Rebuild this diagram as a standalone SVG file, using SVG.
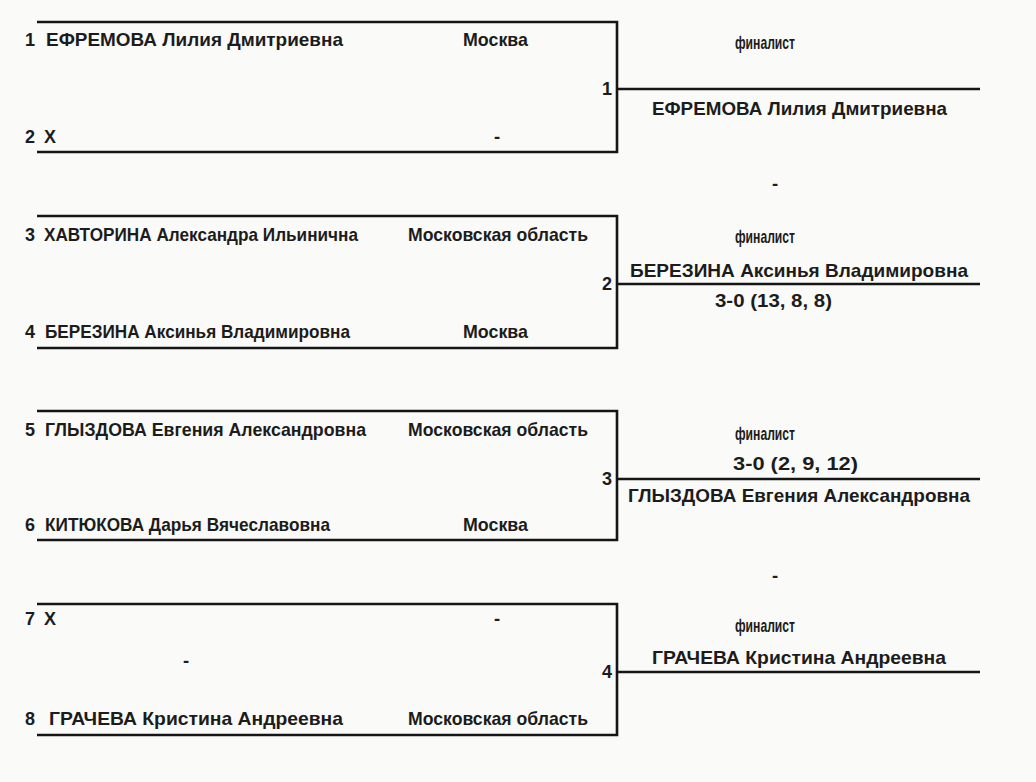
<svg xmlns="http://www.w3.org/2000/svg" width="1036" height="782" viewBox="0 0 1036 782">
<style>
text{font-family:"Liberation Sans","Arial",sans-serif;font-weight:bold;fill:#1c1c1c;font-size:18.5px}
.num{font-size:18px}
.sm{font-size:19px}
.c{text-anchor:middle}
.ln{stroke:#151515;stroke-width:2.6;fill:none}
</style>
<rect width="1036" height="782" fill="#fafaf8"/>
<g id="connectors">
<path class="ln" d="M37 22H617V152H37M617 89H980"/>
<path class="ln" d="M37 216H617V348H37M617 284H980"/>
<path class="ln" d="M37 411H617V540H37M617 479H980"/>
<path class="ln" d="M37 604H617V735H37M617 672H980"/>
</g>
<g id="p1"><text class="num" x="25" y="46">1</text><text x="46" y="46" textLength="297" lengthAdjust="spacingAndGlyphs">ЕФРЕМОВА Лилия Дмитриевна</text><text x="463" y="46" textLength="65" lengthAdjust="spacingAndGlyphs">Москва</text></g>
<g id="p2"><text class="num" x="25" y="143">2</text><text x="44" y="143" textLength="12" lengthAdjust="spacingAndGlyphs">X</text><text class="c" x="497" y="143">-</text></g>
<g id="p3"><text class="num" x="25" y="241">3</text><text x="44" y="241" textLength="314" lengthAdjust="spacingAndGlyphs">ХАВТОРИНА Александра Ильинична</text><text x="408" y="241" textLength="180" lengthAdjust="spacingAndGlyphs">Московская область</text></g>
<g id="p4"><text class="num" x="25" y="338">4</text><text x="45" y="338" textLength="305" lengthAdjust="spacingAndGlyphs">БЕРЕЗИНА Аксинья Владимировна</text><text x="463" y="338" textLength="65" lengthAdjust="spacingAndGlyphs">Москва</text></g>
<g id="p5"><text class="num" x="25" y="436">5</text><text x="45" y="436" textLength="321" lengthAdjust="spacingAndGlyphs">ГЛЫЗДОВА Евгения Александровна</text><text x="408" y="436" textLength="180" lengthAdjust="spacingAndGlyphs">Московская область</text></g>
<g id="p6"><text class="num" x="25" y="531">6</text><text x="45" y="531" textLength="285" lengthAdjust="spacingAndGlyphs">КИТЮКОВА Дарья Вячеславовна</text><text x="463" y="531" textLength="65" lengthAdjust="spacingAndGlyphs">Москва</text></g>
<g id="p7"><text class="num" x="25" y="625">7</text><text x="44" y="625" textLength="12" lengthAdjust="spacingAndGlyphs">X</text><text class="c" x="497" y="625">-</text><text class="c" x="186" y="667">-</text></g>
<g id="p8"><text class="num" x="25" y="725">8</text><text x="49" y="725" textLength="294" lengthAdjust="spacingAndGlyphs">ГРАЧЕВА Кристина Андреевна</text><text x="408" y="725" textLength="180" lengthAdjust="spacingAndGlyphs">Московская область</text></g>
<g id="m1"><text class="num" x="602" y="95">1</text><text class="sm" x="735" y="49" textLength="60" lengthAdjust="spacingAndGlyphs">финалист</text><text x="652" y="115" textLength="295" lengthAdjust="spacingAndGlyphs">ЕФРЕМОВА Лилия Дмитриевна</text><text class="c" x="775" y="190">-</text></g>
<g id="m2"><text class="num" x="602" y="290">2</text><text class="sm" x="735" y="243" textLength="60" lengthAdjust="spacingAndGlyphs">финалист</text><text x="630" y="277" textLength="338" lengthAdjust="spacingAndGlyphs">БЕРЕЗИНА Аксинья Владимировна</text><text x="715" y="307" textLength="117" lengthAdjust="spacingAndGlyphs">3-0 (13, 8, 8)</text></g>
<g id="m3"><text class="num" x="602" y="485">3</text><text class="sm" x="735" y="440" textLength="60" lengthAdjust="spacingAndGlyphs">финалист</text><text x="733" y="470" textLength="125" lengthAdjust="spacingAndGlyphs">3-0 (2, 9, 12)</text><text x="628" y="502" textLength="342" lengthAdjust="spacingAndGlyphs">ГЛЫЗДОВА Евгения Александровна</text><text class="c" x="775" y="582">-</text></g>
<g id="m4"><text class="num" x="602" y="678">4</text><text class="sm" x="735" y="632" textLength="60" lengthAdjust="spacingAndGlyphs">финалист</text><text x="652" y="664" textLength="294" lengthAdjust="spacingAndGlyphs">ГРАЧЕВА Кристина Андреевна</text></g>
</svg>
